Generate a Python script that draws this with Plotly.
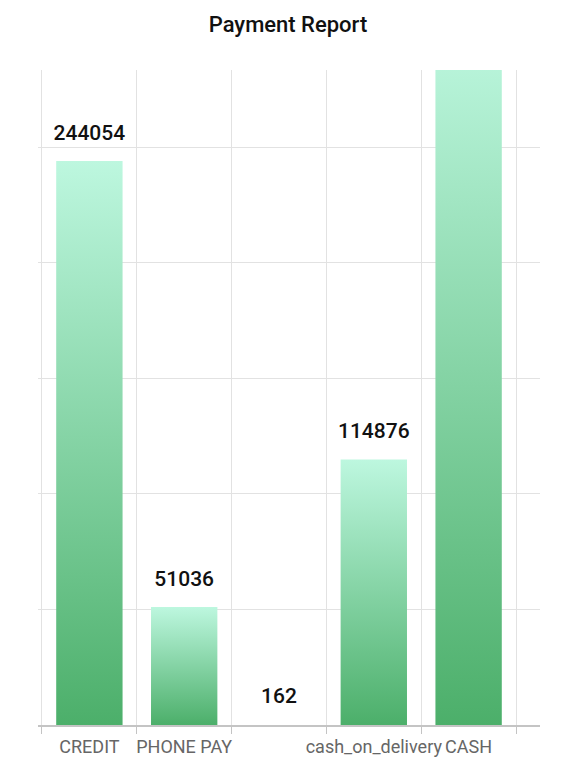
import plotly.graph_objects as go

# payment types and their counts (CASH runs off the top of the chart)
categories = ["CREDIT", "PHONE PAY", " ", "cash_on_delivery", "CASH"]
counts = [244054, 51036, 162, 114876, 300000]
labels = [str(c) for c in counts]

bar_top = "#bdf7df"
bar_bottom = "#4caf6a"
half_width = 0.35

fig = go.Figure()

# gradient bars, drawn as filled boxes on a plain numeric axis
for i, c in enumerate(counts):
    fig.add_trace(go.Scatter(
        x=[i - half_width, i + half_width, i + half_width, i - half_width, i - half_width],
        y=[0, 0, c, c, 0],
        mode="lines",
        fill="toself",
        fillgradient=dict(type="vertical", colorscale=[[0, bar_bottom], [1, bar_top]]),
        line=dict(width=0, color="rgba(0,0,0,0)"),
        hoverinfo="skip",
        showlegend=False,
    ))

# value labels, placed on the category axis
fig.add_trace(go.Scatter(
    x=categories,
    y=counts,
    xaxis="x2",
    mode="markers+text",
    text=labels,
    textposition="top center",
    textfont=dict(family="Roboto", size=21, color="#111111", weight=500),
    marker=dict(size=24, opacity=0),
    showlegend=False,
))

x_range = [-0.542, 4.753]

# page body has an 8px margin, so the figure is a bit smaller than the window
fig.update_layout(
    width=560,
    height=752,
    title=dict(
        text="Payment Report",
        x=0.5,
        xanchor="center",
        y=1 - 16 / 752,
        yanchor="middle",
        font=dict(family="Roboto", size=22, color="#111111", weight=500),
    ),
    font=dict(family="Roboto"),
    paper_bgcolor="white",
    plot_bgcolor="white",
    margin=dict(l=30, r=28, t=62, b=35, autoexpand=False),
    xaxis=dict(type="linear", range=x_range, visible=False),
    xaxis2=dict(
        type="category",
        overlaying="x",
        anchor="y",
        side="bottom",
        range=x_range,
        categoryorder="array",
        categoryarray=categories,
        tickson="boundaries",
        tickangle=0,
        automargin=False,
        showgrid=True,
        gridcolor="#e2e2e2",
        gridwidth=1,
        ticks="outside",
        ticklen=7,
        tickcolor="#c4c4c4",
        ticklabelstandoff=5,
        showline=True,
        linecolor="#c4c4c4",
        linewidth=1.5,
        tickfont=dict(family="Roboto", size=18, color="#666666"),
    ),
    yaxis=dict(
        range=[0, 283400],
        dtick=50000,
        showticklabels=False,
        showgrid=True,
        gridcolor="#e2e2e2",
        zeroline=False,
    ),
)

fig.write_html("out.html")
